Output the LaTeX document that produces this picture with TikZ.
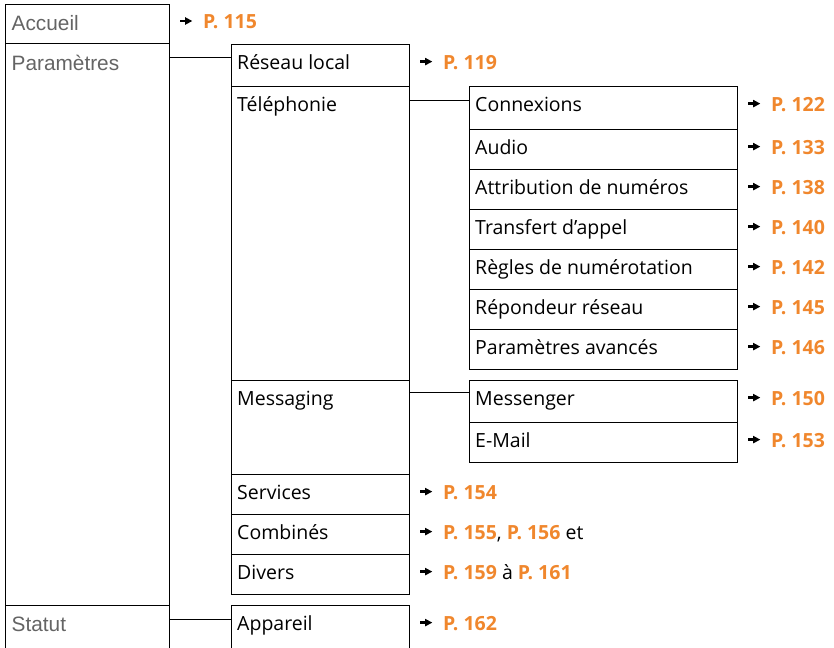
\documentclass[tikz,border=0pt]{standalone}
\usepackage{fontspec}
\setmainfont{Open Sans}
\newfontfamily\grayfont{Liberation Sans}
\definecolor{pgorange}{RGB}{240,135,45}
\definecolor{grtext}{RGB}{100,100,100}
\newcommand\parr{\tikz[x=1pt,y=1pt,baseline=-7.5pt]{\fill (0,-1.3) rectangle (6.5,1.3); \fill (5,-3.8) -- (12,0) -- (5,3.8) -- cycle;}}
\newcommand\pg[1]{{\color{pgorange}\bfseries #1}}
\tikzset{
  box/.style={draw, line width=1.1pt, rectangle, inner sep=0pt, outer sep=0pt, anchor=north west},
  lbl/.style={anchor=base west, inner sep=0pt, font=\fontsize{19.5}{23}\selectfont},
  glbl/.style={anchor=base west, inner sep=0pt, text=grtext, font=\grayfont\fontsize{20.8}{24}\selectfont},
  ref/.style={anchor=base west, inner sep=0pt, font=\fontsize{19.5}{23}\selectfont},
  conn/.style={line width=1.1pt},
}
\newcommand\bx[5]{\node[box, minimum width={(#4-#2)*1pt}, minimum height={(#5-#3)*1pt}] (#1) at (#2,#3) {};}
\begin{document}
\begin{tikzpicture}[x=1pt,y=-1pt]
\useasboundingbox (0,0) rectangle (834,647);
% column 1
\bx{acc}{5.5}{4.5}{169.5}{43.5}
\bx{par}{5.5}{43.5}{169.5}{605.5}
\bx{sta}{5.5}{605.5}{169.5}{670}
% column 2
\bx{res}{231.5}{44.5}{409.5}{86.5}
\bx{tel}{231.5}{86.5}{409.5}{380.5}
\bx{msg}{231.5}{380.5}{409.5}{474.5}
\bx{ser}{231.5}{474.5}{409.5}{514.5}
\bx{com}{231.5}{514.5}{409.5}{554.5}
\bx{div}{231.5}{554.5}{409.5}{594.5}
\bx{app}{231.5}{605.5}{409.5}{670}
% column 3
\bx{con}{469.5}{86.5}{737.5}{129.5}
\bx{aud}{469.5}{129.5}{737.5}{169.5}
\bx{att}{469.5}{169.5}{737.5}{209.5}
\bx{tra}{469.5}{209.5}{737.5}{249.5}
\bx{reg}{469.5}{249.5}{737.5}{289.5}
\bx{rep}{469.5}{289.5}{737.5}{329.5}
\bx{pav}{469.5}{329.5}{737.5}{369.5}
\bx{mes}{469.5}{380.5}{737.5}{422.5}
\bx{ema}{469.5}{422.5}{737.5}{462.5}
% labels column 1
\node[glbl] (acc-t) at ([shift={(6,26.5)}]acc.north west) {Accueil};
\node[glbl] (par-t) at ([shift={(6,27)}]par.north west) {Paramètres};
\node[glbl] (sta-t) at ([shift={(6,26.3)}]sta.north west) {Statut};
% labels column 2
\foreach \n/\t in {res/Réseau local, tel/Téléphonie, msg/Messaging, ser/Services, com/Combinés, div/Divers, app/Appareil}
  \node[lbl] (\n-t) at ([shift={(5.5,24.6)}]\n.north west) {\t};
% labels column 3
\foreach \n/\t in {con/Connexions, aud/Audio, att/Attribution de numéros, tra/Transfert d’appel, reg/Règles de numérotation, rep/Répondeur réseau, pav/Paramètres avancés, mes/Messenger, ema/E-Mail}
  \node[lbl] (\n-t) at ([shift={(5.5,24.6)}]\n.north west) {\t};
% page references
\node[ref] (acc-r) at ([shift={(10.5,24)}]acc.north east) {\parr\hspace{11pt}\pg{P.~115}};
\foreach \n/\p in {res/119, ser/154, app/162}
  \node[ref] (\n-r) at ([shift={(10.5,24.6)}]\n.north east) {\parr\hspace{11pt}\pg{P.~\p}};
\node[ref] (com-r) at ([shift={(10.5,24.6)}]com.north east) {\parr\hspace{11pt}\pg{P.~155}, \pg{P.~156} et};
\node[ref] (div-r) at ([shift={(10.5,24.6)}]div.north east) {\parr\hspace{11pt}\pg{P.~159} à \pg{P.~161}};
\foreach \n/\p in {con/122, aud/133, att/138, tra/140, reg/142, rep/145, pav/146, mes/150, ema/153}
  \node[ref] (\n-r) at ([shift={(10.5,24.6)}]\n.north east) {\parr\hspace{11pt}\pg{P.~\p}};
% connectors
\draw[conn] ([yshift=-14pt]par.north east) -- ([yshift=-13pt]res.north west);
\draw[conn] ([yshift=-14pt]tel.north east) -- ([yshift=-14pt]con.north west);
\draw[conn] ([yshift=-12pt]msg.north east) -- ([yshift=-12pt]mes.north west);
\draw[conn] ([yshift=-14pt]sta.north east) -- ([yshift=-14pt]app.north west);
\end{tikzpicture}
\end{document}
